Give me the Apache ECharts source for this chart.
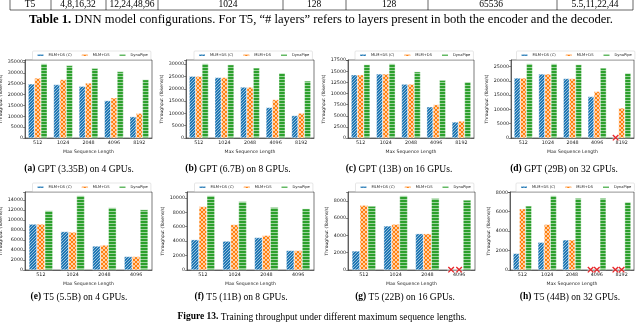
<!DOCTYPE html>
<html>
<head>
<meta charset="utf-8">
<title>Figure 13 - throughput vs max sequence length</title>
<script src="https://cdn.jsdelivr.net/npm/echarts@6/dist/echarts.min.js"></script>
<style>
  html, body { margin: 0; padding: 0; background: #fff; }
  #main { width: 640px; height: 323px; }
</style>
</head>
<body>
<div id="main"></div>
<script>
// ---- data ----
var seriesNames = ['MLM+DS (C)', 'MLM+DS', 'DynaPipe'];
var seqGpt = ['512', '1024', '2048', '4096', '8192'];
var seqT5Short = ['512', '1024', '2048', '4096'];

// (a) GPT 3.35B, 4 GPUs
var gpt4C    = [24900, 24600, 23800, 17200, 9800];
var gpt4DS   = [27600, 26900, 25300, 18500, 11400];
var gpt4Dyna = [34200, 33400, 32100, 30600, 26900];
// (b) GPT 6.7B, 8 GPUs
var gpt8C    = [25100, 24600, 20700, 12400, 9100];
var gpt8DS   = [25100, 24600, 20700, 15600, 10100];
var gpt8Dyna = [30200, 29800, 28500, 26400, 23200];
// (c) GPT 13B, 16 GPUs
var gpt16C    = [14200, 14400, 12100, 7000, 3600];
var gpt16DS   = [14200, 14400, 12100, 7500, 3800];
var gpt16Dyna = [16500, 16700, 14900, 13000, 12600];
// (d) GPT 29B, 32 GPUs (null = out of memory)
var gpt32C    = [21000, 22400, 20800, 14500, null];
var gpt32DS   = [21000, 22400, 20800, 16300, 10500];
var gpt32Dyna = [26000, 26000, 25700, 24500, 22700];
// (e) T5 5.5B, 4 GPUs
var t5x4C    = [9200, 7700, 4800, 2700];
var t5x4DS   = [9200, 7600, 5000, 2700];
var t5x4Dyna = [11900, 14900, 12500, 12100];
// (f) T5 11B, 8 GPUs
var t5x8C    = [4200, 4000, 4500, 2700];
var t5x8DS   = [8800, 6300, 4800, 2700];
var t5x8Dyna = [10300, 9500, 8700, 8500];
// (g) T5 22B, 16 GPUs
var t5x16C    = [2200, 5100, 4200, null];
var t5x16DS   = [7500, 5300, 4200, null];
var t5x16Dyna = [7400, 8600, 8300, 8100];
// (h) T5 44B, 32 GPUs
var t5x32C    = [1700, 2850, 3100, null, null];
var t5x32DS   = [6300, 4700, 3100, null, null];
var t5x32Dyna = [6600, 7650, 7400, 7400, 7000];

var yStep = [5000, 5000, 2500, 5000, 2000, 2000, 2000, 2000];

var captions = [
  '{b|(a)} GPT (3.35B) on 4 GPUs.', '{b|(b)} GPT (6.7B) on 8 GPUs.',
  '{b|(c)} GPT (13B) on 16 GPUs.', '{b|(d)} GPT (29B) on 32 GPUs.',
  '{b|(e)} T5 (5.5B) on 4 GPUs.', '{b|(f)} T5 (11B) on 8 GPUs.',
  '{b|(g)} T5 (22B) on 16 GPUs.', '{b|(h)} T5 (44B) on 32 GPUs.'
];

// last row of Table 1 (shown cut at the top of the page)
var tableRow = ['T5', '4,8,16,32', '12,24,48,96', '1024', '128', '128', '65536', '5.5,11,22,44'];

var panels = [
  { cats: seqGpt, c: gpt4C, ds: gpt4DS, dyna: gpt4Dyna },
  { cats: seqGpt, c: gpt8C, ds: gpt8DS, dyna: gpt8Dyna },
  { cats: seqGpt, c: gpt16C, ds: gpt16DS, dyna: gpt16Dyna },
  { cats: seqGpt, c: gpt32C, ds: gpt32DS, dyna: gpt32Dyna },
  { cats: seqT5Short, c: t5x4C, ds: t5x4DS, dyna: t5x4Dyna },
  { cats: seqT5Short, c: t5x8C, ds: t5x8DS, dyna: t5x8Dyna },
  { cats: seqT5Short, c: t5x16C, ds: t5x16DS, dyna: t5x16Dyna },
  { cats: seqGpt, c: t5x32C, ds: t5x32DS, dyna: t5x32Dyna }
];

// ---- layout ----
var plotLeft  = [25, 186, 348, 511, 25, 187, 348, 510];
var plotRight = [152, 314, 474, 634, 152, 314, 475, 634];
var plotTop   = [60, 192];
var plotH     = [78, 78];
var capX = [79, 238, 399, 564, 79, 241, 405, 570];
var capY = [164, 292];

var SANS = 'DejaVu Sans';
var SERIF = 'Liberation Serif';
var INK = '#222';

// hatch fills like matplotlib ('//', 'xx', '--' with white hatch)
function hatch(base, kind) {
  var s = kind === 'x' ? 4 : 3;
  var cv = document.createElement('canvas');
  cv.width = s; cv.height = s;
  var g = cv.getContext('2d');
  g.fillStyle = base;
  g.fillRect(0, 0, s, s);
  g.strokeStyle = 'rgba(255,255,255,0.9)';
  g.lineWidth = kind === 'x' ? 0.7 : 0.6;
  g.beginPath();
  if (kind === '/' || kind === 'x') {
    g.moveTo(-1, s + 1); g.lineTo(s + 1, -1);
    g.moveTo(-1, 1); g.lineTo(1, -1);
    g.moveTo(s - 1, s + 1); g.lineTo(s + 1, s - 1);
  }
  if (kind === 'x') {
    g.moveTo(-1, -1); g.lineTo(s + 1, s + 1);
    g.moveTo(s - 1, -1); g.lineTo(s + 1, 1);
    g.moveTo(-1, s - 1); g.lineTo(1, s + 1);
  }
  if (kind === '-') {
    g.moveTo(0, 1.5); g.lineTo(s, 1.5);
  }
  g.stroke();
  return { image: cv, repeat: 'repeat' };
}
var fills = [hatch('#1f77b4', '/'), hatch('#ff7f0e', 'x'), hatch('#2ca02c', '-')];

function barData(arr) {
  return arr.map(function (v) {
    if (v !== null) return v;
    // OOM: red cross on the baseline
    return {
      value: 0,
      label: { show: true, position: 'inside', formatter: '\u00d7', color: '#e8262a',
               fontSize: 11, fontWeight: 'bold', fontFamily: SANS }
    };
  });
}

var grids = [], xAxes = [], yAxes = [], legends = [], series = [], titles = [];

panels.forEach(function (p, i) {
  var row = i < 4 ? 0 : 1;
  var w = plotRight[i] - plotLeft[i];
  var maxVal = Math.max.apply(null, p.c.concat(p.ds, p.dyna).filter(function (v) { return v !== null; }));
  var step = yStep[i];
  var digits = String(Math.floor(maxVal / step) * step).length;

  grids.push({
    left: plotLeft[i], top: plotTop[row], width: w, height: plotH[row],
    show: true, borderColor: INK, borderWidth: 0.6, backgroundColor: '#fff',
    outerBoundsMode: 'none', containLabel: false
  });
  xAxes.push({
    type: 'category', gridIndex: i, data: p.cats,
    name: 'Max Sequence Length', nameLocation: 'middle', nameGap: 11,
    nameTextStyle: { fontSize: 4.6, fontFamily: SANS, color: INK },
    axisLine: { lineStyle: { color: INK, width: 0.6 } },
    axisTick: { alignWithLabel: true, length: 2, lineStyle: { color: INK, width: 0.5 } },
    axisLabel: { fontSize: 4.8, fontFamily: SANS, color: INK, margin: 2.5 }
  });
  yAxes.push({
    type: 'value', gridIndex: i, min: 0, max: maxVal * 1.05, interval: step,
    name: 'Throughput (Tokens/s)', nameLocation: 'middle', nameGap: digits * 3 + 7,
    nameTextStyle: { fontSize: 4.4, fontFamily: SANS, color: INK },
    splitLine: { show: false },
    axisLine: { show: true, lineStyle: { color: INK, width: 0.6 } },
    axisTick: { show: true, length: 2, lineStyle: { color: INK, width: 0.5 } },
    axisLabel: {
      fontSize: 4.8, fontFamily: SANS, color: INK, margin: 2,
      formatter: function (v) { return v % step === 0 ? String(v) : ''; }
    }
  });
  legends.push({
    data: seriesNames,
    left: plotLeft[i] + (w - 112) / 2, top: plotTop[row] - 9,
    orient: 'horizontal', icon: 'rect', itemWidth: 8, itemHeight: 3.5, itemGap: 8,
    padding: [1.5, 3], borderColor: '#ccc', borderWidth: 0.5, borderRadius: 1,
    backgroundColor: '#fff', selectedMode: false,
    textStyle: { fontSize: 3.7, fontFamily: SANS, color: INK, padding: [0, 0, 0, -1] }
  });
  [p.c, p.ds, p.dyna].forEach(function (arr, k) {
    series.push({
      type: 'bar', name: seriesNames[k], xAxisIndex: i, yAxisIndex: i,
      data: barData(arr), barWidth: '25%', barGap: '0%',
      itemStyle: { color: fills[k], borderColor: '#fff', borderWidth: 0.4 },
      animation: false
    });
  });
  titles.push({
    text: captions[i], left: capX[i], top: capY[row], textAlign: 'center', padding: 0,
    textStyle: {
      fontFamily: SERIF, fontSize: 9.5, fontWeight: 'normal', color: '#000',
      rich: { b: { fontFamily: SERIF, fontSize: 9.5, fontWeight: 'bold', color: '#000' } }
    }
  });
});

titles.push({
  text: '{b|Table 1.} DNN model configurations. For T5, \u201c# layers\u201d refers to layers present in both the encoder and the decoder.',
  left: 321, top: 13, textAlign: 'center', padding: 0,
  textStyle: {
    fontFamily: SERIF, fontSize: 12.6, fontWeight: 'normal', color: '#000',
    rich: { b: { fontFamily: SERIF, fontSize: 12.6, fontWeight: 'bold', color: '#000' } }
  }
});
titles.push({
  text: '{b|Figure 13.} Training throughput under different maximum sequence lengths.',
  left: 322, top: 312, textAlign: 'center', padding: 0,
  textStyle: {
    fontFamily: SERIF, fontSize: 9.5, fontWeight: 'normal', color: '#000',
    rich: { b: { fontFamily: SERIF, fontSize: 9.5, fontWeight: 'bold', color: '#000' } }
  }
});

// table fragment: borders and cell text
var colLines = [10, 51, 106, 158, 283, 346, 428, 557, 633];
var cellX = [30, 78, 132, 228, 314, 389, 491, 595];
var graphics = [];
colLines.forEach(function (x) {
  graphics.push({ type: 'line', shape: { x1: x, y1: 0, x2: x, y2: 10 }, style: { stroke: '#000', lineWidth: 0.6 } });
});
graphics.push({ type: 'line', shape: { x1: 10, y1: 10, x2: 633, y2: 10 }, style: { stroke: '#000', lineWidth: 0.6 } });
tableRow.forEach(function (t, i) {
  graphics.push({
    type: 'text', x: cellX[i], y: 4.5,
    style: { text: t, fill: '#000', font: '9.5px "' + SERIF + '"', textAlign: 'center', textVerticalAlign: 'middle' }
  });
});

var chart = echarts.init(document.getElementById('main'), null, { renderer: 'canvas' });
chart.setOption({
  animation: false,
  backgroundColor: '#fff',
  title: titles,
  grid: grids,
  xAxis: xAxes,
  yAxis: yAxes,
  legend: legends,
  tooltip: { show: false },
  series: series,
  graphic: graphics
});
</script>
</body>
</html>
